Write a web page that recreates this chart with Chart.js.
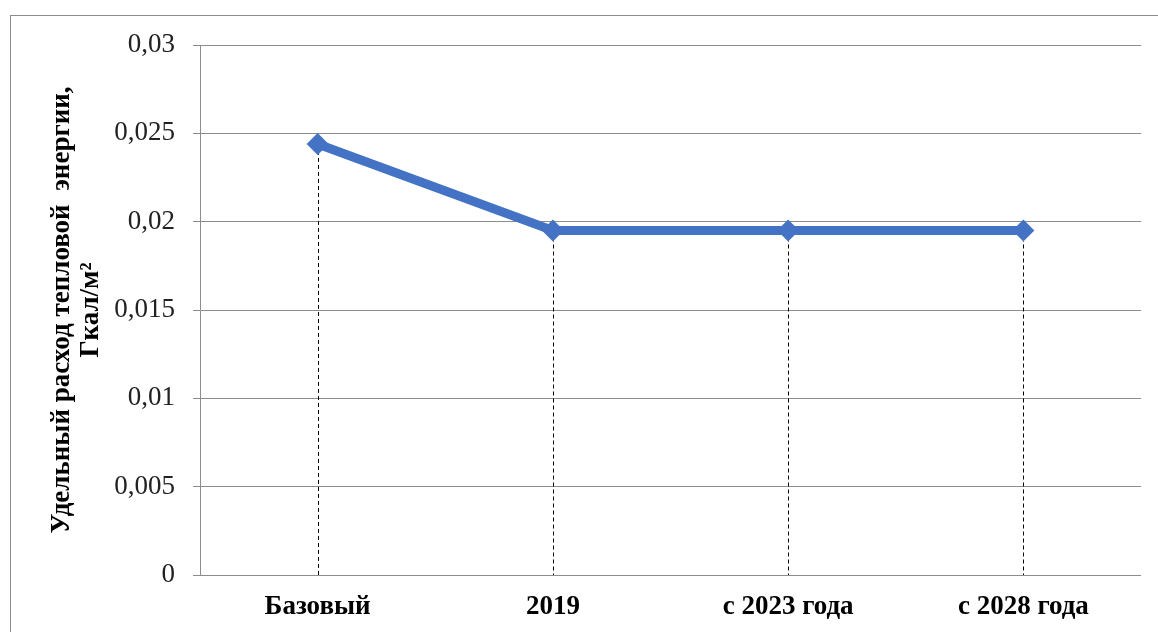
<!DOCTYPE html>
<html>
<head>
<meta charset="utf-8">
<script src="https://cdn.jsdelivr.net/npm/chart.js@4/dist/chart.umd.min.js"></script>
<style>
  body { margin:0; background:#fff; overflow:hidden; }
  #wrap { position:relative; width:1158px; height:632px; }
  #frame { position:absolute; left:10px; top:15px; width:1200px; height:700px;
           border-left:1px solid #8c8c8c; border-top:1px solid #8c8c8c; }
  canvas { position:absolute; left:0; top:0; }
</style>
</head>
<body>
<div id="wrap">
  <div id="frame"></div>
  <canvas id="chart" width="1158" height="632"></canvas>
</div>
<script>
// ============================================
// Data
// ============================================

const categories = ["Базовый", "2019", "с 2023 года", "с 2028 года"];

const heatValues = [0.0244, 0.0195, 0.0195, 0.0195];

const yTicks = { min:0, max:0.03, step:0.005 };

const axisTitle = ["Удельный расход тепловой  энергии,", "Гкал/м²"];


// ============================================
// Drop lines from points to x-axis
// ============================================

const dropLines = {
    id:"dropLines",
    beforeDatasetsDraw(chart){
        const ctx = chart.ctx;
        const bottom = chart.scales.y.getPixelForValue(0);
        const meta = chart.getDatasetMeta(0);
        ctx.save();
        ctx.strokeStyle = "#000";
        ctx.lineWidth = 1;
        ctx.setLineDash([4,3]);
        meta.data.forEach(p=>{
            ctx.beginPath();
            ctx.moveTo(Math.round(p.x)+0.5, p.y);
            ctx.lineTo(Math.round(p.x)+0.5, bottom);
            ctx.stroke();
        });
        ctx.restore();
    }
};


new Chart(document.getElementById("chart"), {
    type:"line",
    data:{
        labels:categories,
        datasets:[{
            data:heatValues,
            borderColor:"#4472C4",
            backgroundColor:"#4472C4",
            borderWidth:9,
            pointStyle:"rectRot",
            pointRadius:11,
            pointBorderWidth:0,
            tension:0
        }]
    },
    options:{
        responsive:false,
        animation:false,
        layout:{ padding:{ left:0, top:45, right:17, bottom:0 } },
        plugins:{ legend:{ display:false }, tooltip:{ enabled:false } },
        scales:{
            x:{
                offset:true,
                grid:{ display:false, drawTicks:false },
                border:{ display:false },
                ticks:{
                    color:"#000",
                    padding:16,
                    font:{ family:"Liberation Serif", size:27, weight:"bold" }
                },
                afterFit(scale){ scale.height = 57; }
            },
            y:{
                min:yTicks.min,
                max:yTicks.max,
                ticks:{
                    stepSize:yTicks.step,
                    color:"#222",
                    padding:18,
                    font:{ family:"Liberation Serif", size:27 },
                    callback:v=>String(+v.toFixed(3)).replace(".", ",")
                },
                grid:{ color:"#8c8c8c", lineWidth:1, tickLength:7 },
                border:{ display:true, color:"#8c8c8c" },
                title:{
                    display:true,
                    text:axisTitle,
                    color:"#000",
                    padding:{ top:48, bottom:0 },
                    font:{ family:"Liberation Serif", size:27, weight:"bold", lineHeight:1.07 }
                },
                afterFit(scale){ scale.width = 200; }
            }
        }
    },
    plugins:[dropLines]
});
</script>
</body>
</html>
